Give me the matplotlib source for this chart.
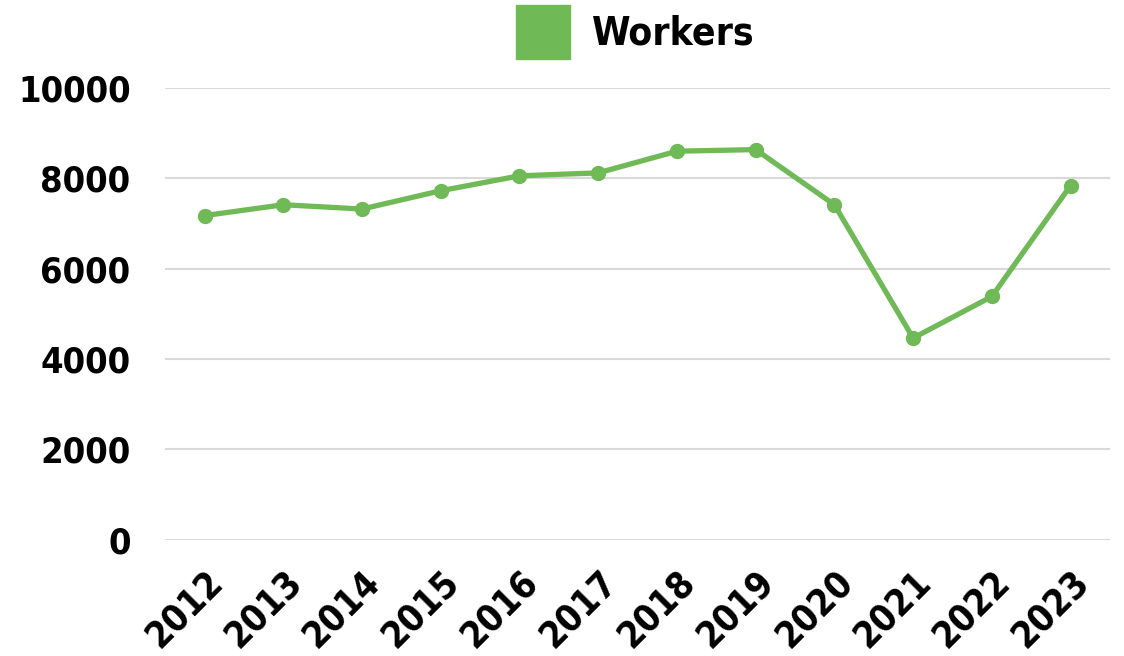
import matplotlib
matplotlib.use("Agg")
import matplotlib.pyplot as plt
from matplotlib.patches import Patch

years = ["2012", "2013", "2014", "2015", "2016", "2017",
         "2018", "2019", "2020", "2021", "2022", "2023"]
workers = [7175, 7415, 7320, 7725, 8055, 8120,
           8600, 8635, 7415, 4465, 5385, 7840]
yticks = [0, 2000, 4000, 6000, 8000, 10000]

green = "#6fb957"
plt.rcParams["font.family"] = ["DejaVu Sans"]
plt.rcParams["font.stretch"] = "condensed"

fig = plt.figure(figsize=(11.24, 6.56), dpi=100)
ax = fig.add_axes([0.147, 0.177, 0.8405, 0.689])

x = range(len(years))
ax.plot(x, workers, color=green, lw=3.8, marker="o", ms=10, zorder=3)

ax.set_xlim(-0.5, len(years) - 0.5)
ax.set_ylim(0, 10000)
ax.set_yticks(yticks)
ax.set_yticklabels([str(v) for v in yticks], fontsize=26, fontweight="bold")
ax.set_xticks(list(x))
ax.set_xticklabels(years, fontsize=26.5, fontweight="bold", rotation=45,
                   ha="right", rotation_mode="anchor")
ax.tick_params(axis="both", length=0)
ax.tick_params(axis="y", pad=25)
ax.tick_params(axis="x", pad=17)

ax.grid(axis="y", color="#d9d9d9", lw=1.5)
ax.set_axisbelow(True)
for s in ax.spines.values():
    s.set_visible(False)

leg = fig.legend(handles=[Patch(color=green, label="Workers")],
                 loc="upper center", bbox_to_anchor=(0.565, 1.045), frameon=False,
                 prop={"size": 28, "weight": "bold"},
                 handlelength=1.4, handleheight=1.75, handletextpad=0.55)

fig.savefig("out.png", dpi=100)
